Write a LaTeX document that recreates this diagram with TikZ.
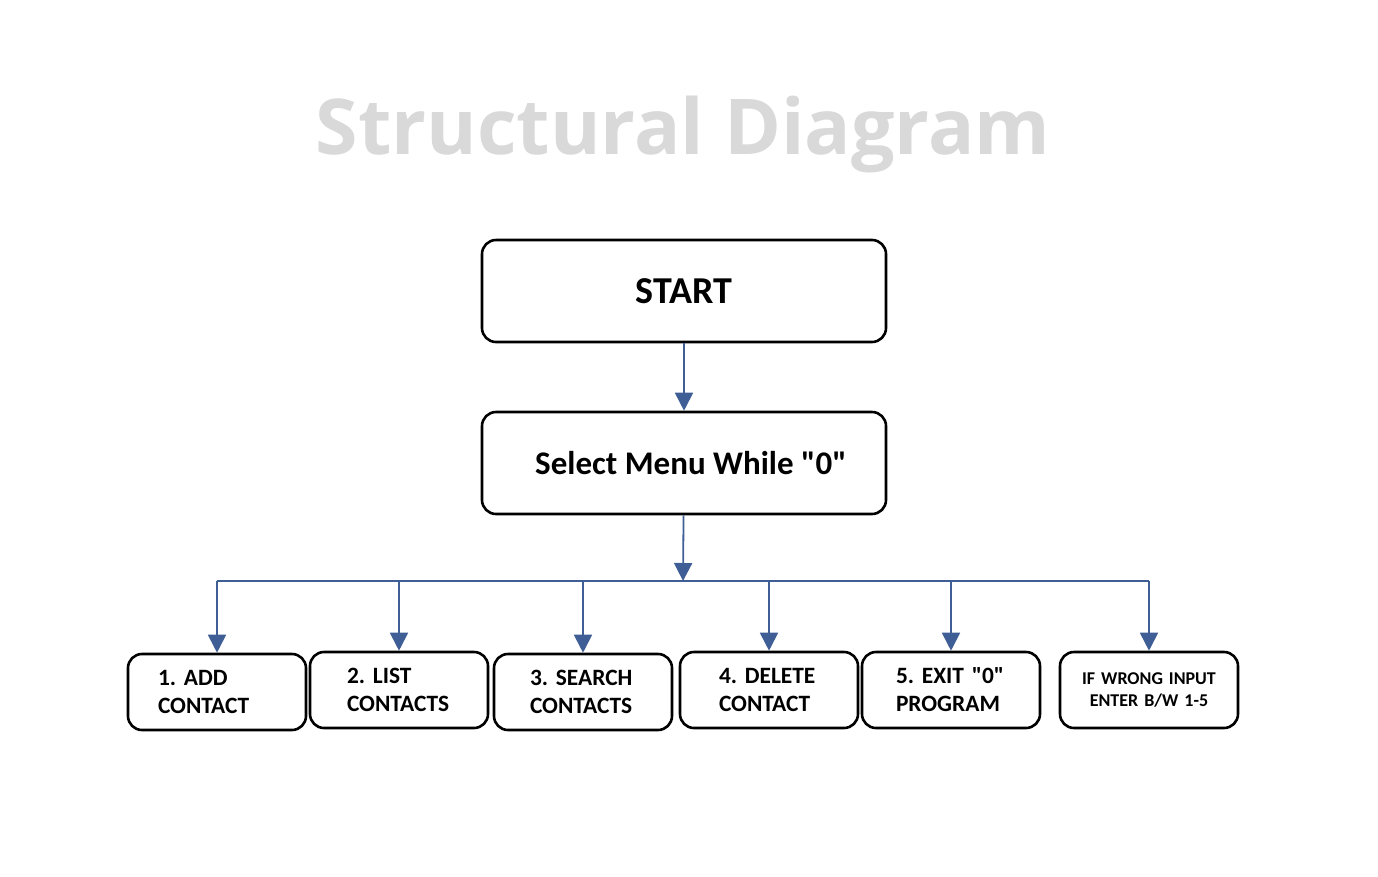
\documentclass[tikz,border=0pt]{standalone}
\usepackage{fontspec}
\setmainfont{Carlito}
\newfontfamily\titlefont{Open Sans}
\usetikzlibrary{arrows.meta}
\definecolor{linkblue}{RGB}{63,94,150}
\definecolor{titlegray}{RGB}{217,217,217}
\frenchspacing

\begin{document}
\begin{tikzpicture}[x=1pt, y=-1pt,
	box/.style={draw, line width=2.6pt, rounded corners=14pt},
	bigbox/.style={box, minimum width=404pt, minimum height=102pt, font=\fontsize{34}{40}\selectfont\bfseries},
	optbox/.style={box, minimum width=178pt, minimum height=76pt, inner xsep=0pt, align=left, font=\fontsize{23.4}{28}\selectfont\bfseries},
	link/.style={draw=linkblue, line width=1.8pt, -{Triangle[length=18pt, width=18pt]}},
	bar/.style={draw=linkblue, line width=1.8pt}]
\useasboundingbox (0,0) rectangle (1378,876);

\node[anchor=base, text=titlegray, font=\titlefont\fontsize{77}{90}\selectfont\bfseries] (title) at (683,154) {Structural Diagram};

\node[bigbox, font=\fontsize{38}{40}\selectfont\bfseries] (start) at (684,291) {START};
\node[bigbox, font=\fontsize{33}{40}\selectfont\bfseries] (menu) at (684,463) {\hspace*{14pt}Select Menu While \textquotedbl0\textquotedbl};

\node[optbox, text width=118pt] (add) at (217,692) {1. ADD\\CONTACT};
\node[optbox, text width=104pt] (list) at (399,690) {2. LIST\\CONTACTS};
\node[optbox, text width=106pt] (search) at (583,692) {3. SEARCH\\CONTACTS};
\node[optbox, text width=100pt] (delete) at (769,690) {4. DELETE\\CONTACT};
\node[optbox, text width=110pt] (exit) at (951,690) {5. EXIT \textquotedbl0\textquotedbl\\PROGRAM};
\node[optbox, text width=178pt, align=center, font=\fontsize{18}{22}\selectfont\bfseries] (wrong) at (1149,690) {IF WRONG INPUT\\ENTER B/W 1-5};

\coordinate (split) at (683,581);

\draw[link] (start) -- (menu);
\draw[link] (menu) -- (split);
\draw[bar] (split -| add) -- (split -| wrong);
\foreach \opt in {add, list, search, delete, exit, wrong}
	\draw[link] (split -| \opt) -- (\opt);
\end{tikzpicture}
\end{document}
